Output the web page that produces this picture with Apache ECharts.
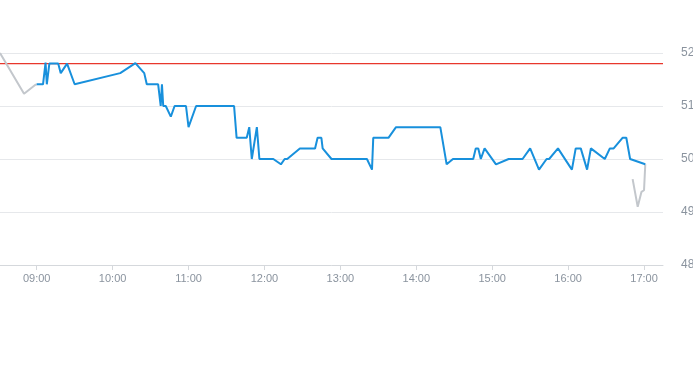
<!DOCTYPE html>
<html>
<head>
<meta charset="utf-8">
<script src="https://cdn.jsdelivr.net/npm/echarts@6/dist/echarts.min.js"></script>
<style>html,body{margin:0;padding:0;background:#fff}#c{width:693px;height:365px}</style>
</head>
<body>
<div id="c"></div>
<script>
// Main session (blue)
var mainTimes = ['09:00','09:05','09:07','09:08','09:10','09:17','09:19','09:24','09:30','10:06','10:18','10:25','10:27','10:36','10:38','10:39','10:40','10:42','10:46','10:49','10:58','11:00','11:06','11:36','11:38','11:46','11:48','11:50','11:54','11:56','12:07','12:13','12:16','12:18','12:28','12:40','12:42','12:45','12:46','12:53','13:21','13:25','13:26','13:38','13:44','14:19','14:24','14:29','14:45','14:47','14:49','14:51','14:54','15:03','15:13','15:24','15:30','15:37','15:43','15:45','15:52','16:03','16:06','16:10','16:15','16:18','16:29','16:33','16:36','16:43','16:46','16:49','17:01'];
var mainValues = [51.41,51.41,51.82,51.41,51.8,51.8,51.62,51.8,51.41,51.62,51.81,51.62,51.41,51.41,51.0,51.41,51.0,51.0,50.8,51.0,51.0,50.6,51.0,51.0,50.4,50.4,50.6,50.0,50.6,50.0,50.0,49.9,50.0,50.0,50.2,50.2,50.4,50.4,50.2,50.0,50.0,49.8,50.4,50.4,50.6,50.6,49.9,50.0,50.0,50.2,50.2,50.0,50.2,49.9,50.0,50.0,50.2,49.8,50.0,50.0,50.2,49.8,50.2,50.2,49.8,50.2,50.0,50.2,50.2,50.4,50.4,50.0,49.9];
// Pre-market (grey)
var preTimes = ['08:31','08:50','08:59','09:00'];
var preValues = [52.0,51.23,51.4,51.41];
// After-hours (grey)
var postTimes = ['16:51','16:55','16:58','17:00','17:01'];
var postValues = [49.62,49.1,49.38,49.41,49.9];
// Reference level (red)
var refLevel = 51.8;
// Axis range and ticks
var axisStart = '08:31';
var axisEnd = '17:15';
var xTickLabels = ['09:00','10:00','11:00','12:00','13:00','14:00','15:00','16:00','17:00'];
var yTicks = [48,49,50,51,52];

function toMin(s){var p=s.split(':');return (+p[0])*60+(+p[1]);}
function pad(n){return (n<10?'0':'')+n;}
function fmt(m){return pad(Math.floor(m/60))+':'+pad(Math.round(m%60));}
function pairs(t,v){return t.map(function(s,i){return [toMin(s),v[i]];});}

var xMin = toMin(axisStart), xMax = toMin(axisEnd);
var chart = echarts.init(document.getElementById('c'));
chart.setOption({
  animation:false,
  grid:{left:0,right:30,top:53,bottom:100,containLabel:false,outerBoundsMode:'none'},
  xAxis:{
    type:'value', min:xMin, max:xMax,
    axisLine:{show:true,lineStyle:{color:'#d5d8dc',width:1}},
    axisTick:{show:true,customValues:xTickLabels.map(toMin),length:5,lineStyle:{color:'#d5d8dc'}},
    axisLabel:{customValues:xTickLabels.map(toMin),formatter:function(v){return fmt(v);},color:'#8a939e',fontSize:11,margin:8,fontFamily:'Liberation Sans, Arial, sans-serif'},
    splitLine:{show:false}
  },
  yAxis:{
    type:'value', position:'right', min:yTicks[0], max:yTicks[yTicks.length-1], interval:1,
    axisLine:{show:false}, axisTick:{show:false},
    axisLabel:{color:'#8a939e',fontSize:12,margin:18,fontFamily:'Liberation Sans, Arial, sans-serif'},
    splitLine:{show:true,lineStyle:{color:'#e6e8eb',width:1}}
  },
  series:[
    {type:'line',data:[[xMin,refLevel],[xMax,refLevel]],symbol:'none',color:'#e8372c',lineStyle:{color:'#e8372c',width:1.2,opacity:1},z:1,silent:true},
    {type:'line',data:pairs(preTimes,preValues),symbol:'none',lineStyle:{color:'#c3c7cc',width:2},z:2},
    {type:'line',data:pairs(postTimes,postValues),symbol:'none',lineStyle:{color:'#c3c7cc',width:2},z:2},
    {type:'line',data:pairs(mainTimes,mainValues),symbol:'none',lineStyle:{color:'#1890dc',width:2},z:3}
  ]
});
</script>
</body>
</html>
